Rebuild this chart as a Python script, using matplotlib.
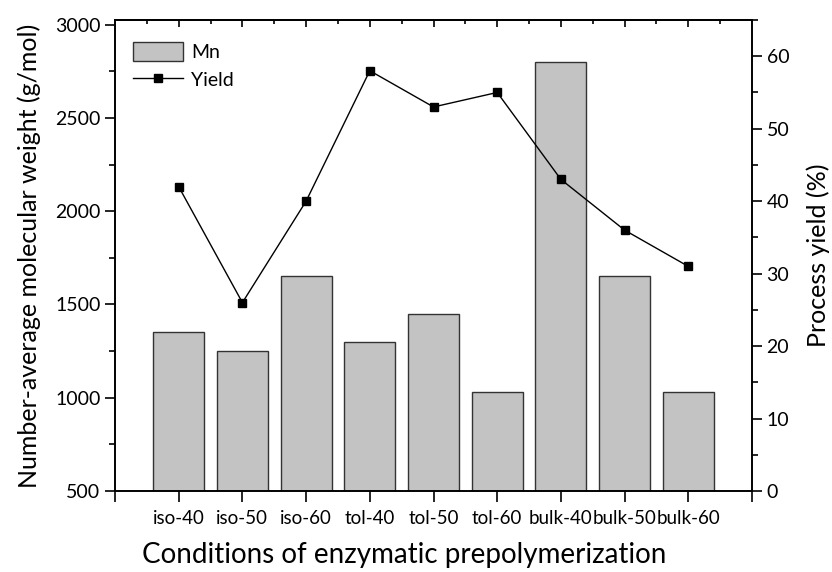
import numpy as np
import matplotlib.pyplot as plt
from matplotlib.ticker import MultipleLocator, FixedLocator

plt.rcParams['font.family'] = ['Lato', 'DejaVu Sans']

conditions = ["iso-40", "iso-50", "iso-60", "tol-40", "tol-50", "tol-60",
              "bulk-40", "bulk-50", "bulk-60"]
mn = [1350, 1250, 1650, 1300, 1450, 1030, 2800, 1650, 1030]
yield_pct = [42, 26, 40, 58, 53, 55, 43, 36, 31]

x = np.arange(1, len(conditions) + 1)

fig = plt.figure(figsize=(8.32, 5.72), dpi=100)
ax = fig.add_axes([115 / 832, 1 - 491 / 572, (752 - 115) / 832, (491 - 20) / 572])
ax2 = ax.twinx()

bars = ax.bar(x, mn, width=0.8, color="#c3c3c3", edgecolor="#333333",
              linewidth=1.0, label="Mn", zorder=2)
line, = ax2.plot(x, yield_pct, "-s", color="black", linewidth=1.0,
                 markersize=6, label="Yield", zorder=3)

ax.set_xlim(0, 10)
ax.set_ylim(500, 3025)
ax2.set_ylim(0, 65)

ax.set_xticks(np.arange(0, 11))
ax.set_xticklabels([""] + conditions + [""])
ax.yaxis.set_major_locator(MultipleLocator(500))
ax.yaxis.set_minor_locator(MultipleLocator(250))
ax2.set_yticks(np.arange(0, 61, 10))
ax2.yaxis.set_minor_locator(MultipleLocator(5))

ax.tick_params(axis="x", which="major", direction="out", length=8, width=1.2,
               labelsize=13.5, pad=6)
ax.tick_params(axis="y", which="major", direction="out", length=7, width=1.2,
               labelsize=14)
ax.tick_params(axis="y", which="minor", direction="out", length=4, width=1.2)
ax2.tick_params(axis="y", which="major", direction="out", length=7, width=1.2,
                labelsize=14)
ax2.tick_params(axis="y", which="minor", direction="out", length=4, width=1.2)

# top ticks pointing inward
top = ax.secondary_xaxis("top")
top.set_xticks(np.arange(1, 10))
top.xaxis.set_minor_locator(FixedLocator(np.arange(0.5, 10, 1.0)))
top.tick_params(which="major", direction="in", length=5, width=1.2, labeltop=False)
top.tick_params(which="minor", direction="in", length=3, width=1.2)
top.spines["top"].set_linewidth(1.2)

for a in (ax, ax2):
    for s in a.spines.values():
        s.set_linewidth(1.2)

ax.set_xlabel("Conditions of enzymatic prepolymerization", fontsize=20)
ax.xaxis.set_label_coords(0.454, -0.108)
ax.set_ylabel("Number-average molecular weight (g/mol)", fontsize=18, labelpad=10)
ax2.set_ylabel("Process yield (%)", fontsize=18, labelpad=12)

ax.set_zorder(1)
ax.patch.set_visible(False)
ax2.set_zorder(2)

ax2.legend([bars, line], ["Mn", "Yield"], loc="upper left", frameon=False,
           fontsize=14, handlelength=2.6, handleheight=1.1,
           bbox_to_anchor=(0.0, 0.99), labelspacing=0.45, handletextpad=0.4)

fig.savefig("out.png", dpi=100)
